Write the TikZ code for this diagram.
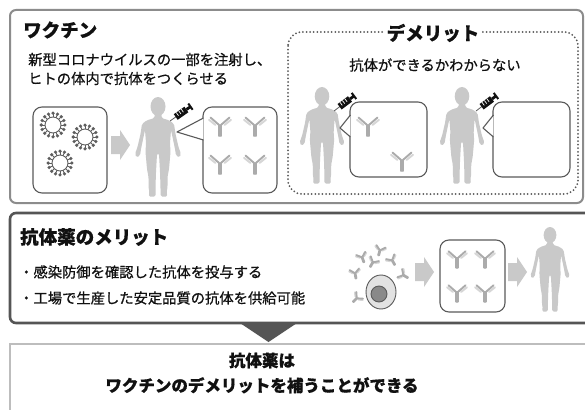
\documentclass[tikz,border=0pt]{standalone}
\usepackage{fontspec}
\setmainfont{Noto Sans CJK JP}[BoldFeatures={FakeBold=0.7}]
\newfontfamily\jpbody{Noto Sans CJK JP}[FakeBold=0.7]
\usepackage{tikz}
\usetikzlibrary{positioning,calc}
\definecolor{VacInk}{HTML}{111111}
\definecolor{VacFrame}{HTML}{8C8C8C}
\definecolor{VacDark}{HTML}{555555}
\definecolor{VacLight}{HTML}{BDBDBD}
\definecolor{VacBody}{HTML}{C9C9C9}
\definecolor{VacLine}{HTML}{5A5A5A}
\definecolor{VacHeavy}{HTML}{ABABAB}
\definecolor{VacChain}{HTML}{D6D6D6}
\definecolor{VacSpike}{HTML}{5E5E5E}
\tikzset{
  figtitle/.style={font=\fontsize{18.5}{20}\selectfont\bfseries, text=VacInk, inner sep=0pt},
  figtext/.style={font=\fontsize{14.3}{19}\selectfont\jpbody, text=VacInk, inner sep=0pt},
  figpanel/.style={draw=VacFrame, line width=2pt, rounded corners=6pt},
  figbox/.style={draw=VacLine, line width=1.1pt, rounded corners=9pt, fill=white, inner sep=0pt},
  figpointer/.style={draw=VacLine, line width=1.1pt, fill=white, line join=round},
  dotpanel/.style={draw=VacLine, line width=2pt, dash pattern=on 0pt off 3.6pt, line cap=round, rounded corners=14pt},
  % silhouette, origin at the top of the head
  person/.pic={
    \fill[VacBody, rounded corners=1.5pt]
      (-3.5,17) -- (-3.5,21) -- (-11.5,23.5) -- (-16,27) -- (-17.5,37) -- (-20.5,50) -- (-23,57)
      -- (-21.5,60.5) -- (-18,58.5) -- (-17,52) -- (-14.5,40) -- (-13,33) -- (-12,46) -- (-12.5,55)
      -- (-11,72) -- (-9.5,80) -- (-9.5,90) -- (-8.5,96) -- (-9.5,99.5) -- (-2.5,99.5) -- (-2.5,90)
      -- (-2,75) -- (-1,57) -- (0,56)
      -- (1,57) -- (2,75) -- (2.5,90) -- (2.5,99.5) -- (9.5,99.5) -- (8.5,96) -- (9.5,90) -- (9.5,80)
      -- (11,72) -- (12.5,55) -- (12,46) -- (13,33) -- (14.5,40) -- (17,52) -- (18,58.5)
      -- (21.5,60.5) -- (23,57) -- (20.5,50) -- (17.5,37) -- (16,27) -- (11.5,23.5) -- (3.5,21)
      -- (3.5,17) -- cycle;
    \fill[VacBody] (0,9.5) ellipse (7.5 and 9.5);
  },
  % needle tip at the origin, barrel along +x
  syringe/.pic={
    \draw[VacLine, line width=0.8pt] (0,0) -- (8,0);
    \fill[VacInk] (7,-3.4) rectangle (20,3.4);
    \foreach \t in {10,13,16} \draw[white, line width=0.7pt] (\t,-3.4) -- (\t,0.5);
    \fill[VacInk] (20,-1.4) rectangle (24,1.4) (24,-3.8) rectangle (26,3.8);
  },
  antibody/.pic={
    \draw[VacChain, line width=1.9pt, line cap=round] (-4.5,0) -- (-11,-5.2) (4.5,0) -- (11,-5.2);
    \draw[VacHeavy, line width=1.9pt, line cap=round, line join=round]
      (-0.9,11) -- (-0.9,0) -- (-9.5,-7.5) (0.9,11) -- (0.9,0) -- (9.5,-7.5);
  },
  virus/.pic={
    \foreach \a in {0,...,15}{
      \draw[VacSpike, line width=0.9pt] ({\a*22.5}:7.5) -- ({\a*22.5}:11);
      \fill[VacSpike] ({\a*22.5}:11.8) circle (1.8);
    }
    \draw[VacSpike, fill=white, line width=0.9pt] (0,0) circle (8);
  },
  fatarrow/.pic={
    \fill[VacBody] (0,-9) -- (9,-9) -- (9,-15) -- (19,0) -- (9,15) -- (9,9) -- (0,9) -- cycle;
  }
}

\begin{document}
\begin{tikzpicture}[x=1pt, y=-1pt]
\useasboundingbox (0,0) rectangle (585,409);
\clip (0,0) rectangle (585,409);
\fill[white] (0,0) rectangle (585,409);

% vaccine
\path[figpanel] (10,10) rectangle (583,203);
\node[figtitle, anchor=west] (vaccine) at (23,30) {ワクチン};
\node[figtext, anchor=west, align=left] (howto) at (28,69) {新型コロナウイルスの一部を注射し、\\ヒトの体内で抗体をつくらせる};

\node[figbox, minimum width=74pt, minimum height=86pt] (germs) at (70,150) {};
\pic at (53,125) {virus};
\pic at (85,137) {virus};
\pic at (60,163) {virus};
\pic at (111,145) {fatarrow};

\pic at (158,97) {person};
\pic[rotate=35] at (170,121) {syringe};

\node[figbox, minimum width=74pt, minimum height=86pt] (made) at (240,150) {};
\coordinate (madetip) at (177,132);
\filldraw[figpointer] ($(made.west)+(1,-32)$) -- (madetip) -- ($(made.west)+(1,-10)$);
\foreach \x/\y in {220/125,255/125,220/163,255/163}
  \pic at (\x,\y) {antibody};

% demerit
\path[dotpanel] (288,32) rectangle (578,194);
\node[figtitle, fill=white, inner xsep=3pt, inner ysep=1pt] (demerit) at (433,33) {デメリット};
\node[figtext] (unsure) at (435,65) {抗体ができるかわからない};

\pic[scale=0.97] at (322,87) {person};
\pic[rotate=37] at (334,111) {syringe};
\node[figbox, minimum width=77pt, minimum height=75pt] (some) at (388.5,139.5) {};
\coordinate (sometip) at (340,128);
\filldraw[figpointer] ($(some.west)+(1,-24.5)$) -- (sometip) -- ($(some.west)+(1,-2.5)$);
\pic at (368,125) {antibody};
\pic at (402,160) {antibody};

\pic[scale=0.97] at (462,87) {person};
\pic[rotate=37] at (476,111) {syringe};
\node[figbox, minimum width=77pt, minimum height=75pt] (none) at (531.5,139.5) {};
\coordinate (nonetip) at (483,128);
\filldraw[figpointer] ($(none.west)+(1,-24.5)$) -- (nonetip) -- ($(none.west)+(1,-2.5)$);

% antibody drug
\path[figpanel, draw=VacDark, line width=2.6pt] (10,213) rectangle (610,323);
\node[figtitle, anchor=west] (merit) at (20,237) {抗体薬のメリット};
\node[figtext, anchor=west] (dose) at (19,272) {・感染防御を確認した抗体を投与する};
\node[figtext, anchor=west] (supply) at (19,298) {・工場で生産した安定品質の抗体を供給可能};

\foreach \x/\y/\r in {362/257/20,380/250/-15,373/262/-30,392/260/30,355/273/10,403/275/60,357/298/-45}
  \pic[scale=0.5, rotate=\r] at (\x,\y) {antibody};
\draw[VacLine, fill=VacChain!70, line width=0.9pt] (381,292) ellipse (15 and 17);
\draw[VacLine, fill=VacHeavy!80!black, line width=0.9pt] (379,294) circle (8);

\pic at (415,272) {fatarrow};
\node[figbox, minimum width=65pt, minimum height=72pt] (stock) at (472.5,276) {};
\foreach \x/\y in {457/258,485/258,457/292,485/292}
  \pic[scale=0.9] at (\x,\y) {antibody};
\pic at (508,272) {fatarrow};
\pic[scale=0.85] at (550,227) {person};

% summary
\fill[VacDark] (240,323) -- (297,323) -- (268.5,342) -- cycle;
\path[draw=VacLight, line width=2pt] (10,344) rectangle (610,430);
\node[figtitle, font=\fontsize{16.5}{25}\selectfont\bfseries, align=center] (summary) at (262,373)
  {抗体薬は\\ワクチンのデメリットを補うことができる};
\end{tikzpicture}
\end{document}
